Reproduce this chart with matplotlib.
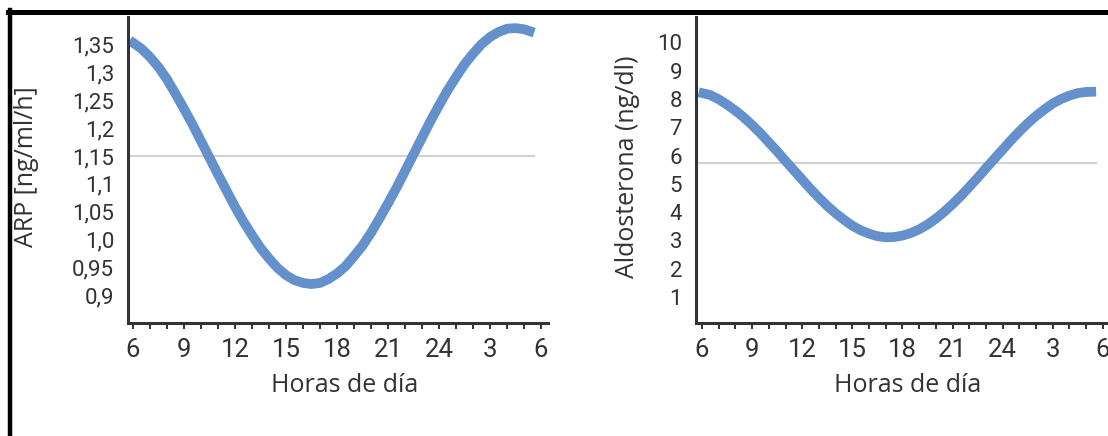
import matplotlib
matplotlib.use('Agg')
from matplotlib import pyplot as plt
from matplotlib.lines import Line2D

# horas del día (6 h -> 6 h del día siguiente, en escala continua)
horas = [5.8, 6.5, 7, 7.5, 8, 8.5, 9, 9.5, 10, 10.5, 11, 11.5, 12, 12.5,
         13, 13.5, 14, 14.5, 15, 15.5, 16, 16.5, 17, 17.5, 18, 18.5, 19,
         19.5, 20, 20.5, 21, 21.5, 22, 22.5, 23, 23.5, 24, 24.5, 25, 25.5,
         26, 26.5, 27, 27.5, 28, 28.5, 29, 29.6]

# actividad de renina plasmática (ng/ml/h)
arp = [1.358, 1.343, 1.328, 1.310, 1.288, 1.262, 1.235, 1.207, 1.177, 1.147,
       1.117, 1.088, 1.059, 1.032, 1.008, 0.985, 0.966, 0.949, 0.936, 0.927,
       0.922, 0.920, 0.922, 0.929, 0.939, 0.952, 0.970, 0.989, 1.012, 1.038,
       1.065, 1.093, 1.123, 1.153, 1.183, 1.213, 1.241, 1.268, 1.292, 1.315,
       1.334, 1.351, 1.364, 1.373, 1.379, 1.380, 1.378, 1.372]
arp_media = 1.15

# aldosterona (ng/dl)
aldo = [8.24, 8.14, 7.99, 7.80, 7.59, 7.35, 7.08, 6.79, 6.47, 6.15,
        5.81, 5.48, 5.15, 4.82, 4.51, 4.22, 3.96, 3.73, 3.52, 3.36,
        3.24, 3.15, 3.11, 3.12, 3.17, 3.26, 3.39, 3.56, 3.77, 4.01,
        4.28, 4.57, 4.89, 5.21, 5.55, 5.88, 6.21, 6.54, 6.85, 7.14,
        7.40, 7.63, 7.84, 8.00, 8.12, 8.21, 8.25, 8.26]
aldo_media = 5.74

xticks = [6, 9, 12, 15, 18, 21, 24, 27, 30]
xlabels = ['6', '9', '12', '15', '18', '21', '24', '3', '6']
arp_ticks = [0.9, 0.95, 1.0, 1.05, 1.1, 1.15, 1.2, 1.25, 1.3, 1.35]
arp_labels = ['0,9', '0,95', '1,0', '1,05', '1,1', '1,15', '1,2', '1,25', '1,3', '1,35']
aldo_ticks = [1, 2, 3, 4, 5, 6, 7, 8, 9, 10]

AZUL = '#6490cb'
GRIS = '#d3d3d3'
EJE = '#333333'

W, H = 1108, 436


def caja(x0, y0, x1, y1):
    """rectángulo en píxeles -> fracción de figura"""
    return [x0 / W, 1 - y1 / H, (x1 - x0) / W, (y1 - y0) / H]


def panel(ax, y, media, yticks, ylabels, ylim, xlim):
    ax.plot([horas[0], horas[-1]], [media, media], color=GRIS, lw=1.6, zorder=1)
    ax.plot(horas, y, color=AZUL, lw=7, solid_capstyle='butt',
            solid_joinstyle='round', zorder=2)
    ax.set_xlim(*xlim)
    ax.set_ylim(*ylim)
    for s in ['top', 'right']:
        ax.spines[s].set_visible(False)
    for s in ['left', 'bottom']:
        ax.spines[s].set_linewidth(2.2)
        ax.spines[s].set_color(EJE)
    ax.set_xticks(xticks)
    ax.set_xticklabels(xlabels, fontsize=18.5, color=EJE, family='Roboto')
    ax.set_xticks(range(6, 31), minor=True)
    ax.tick_params(axis='x', which='both', direction='out', length=4.5,
                   width=1.4, color=EJE, pad=6)
    ax.set_yticks(yticks)
    ax.set_yticklabels(ylabels, fontsize=16, color=EJE, family='Roboto')
    ax.tick_params(axis='y', length=0, pad=10)
    ax.set_facecolor('white')


fig = plt.figure(figsize=(W / 100, H / 100), dpi=100)

ax1 = fig.add_axes(caja(128, 17, 548, 323))
panel(ax1, arp, arp_media, arp_ticks, arp_labels, (0.85, 1.40),
      (6 - 5 / 17, 6 + 415 / 17))

ax2 = fig.add_axes(caja(696, 17, 1111, 323))
panel(ax2, aldo, aldo_media, aldo_ticks, [str(t) for t in aldo_ticks],
      (0.08, 10.9), (6 - 6 / 16.7, 6 + 409 / 16.7))

# títulos de los ejes
fig.text(27 / W, 1 - 167 / H, 'ARP [ng/ml/h]', rotation=90, ha='center',
         va='center', fontsize=18, color=EJE, family='Open Sans')
fig.text(627 / W, 1 - 167 / H, 'Aldosterona (ng/dl)', rotation=90, ha='center',
         va='center', fontsize=18, color=EJE, family='Open Sans')
fig.text(345 / W, 1 - 385 / H, 'Horas de día', ha='center', va='center',
         fontsize=18, color=EJE, family='Open Sans')
fig.text(908 / W, 1 - 385 / H, 'Horas de día', ha='center', va='center',
         fontsize=18, color=EJE, family='Open Sans')

# marco negro superior e izquierdo
fig.add_artist(Line2D([8 / W, 1], [1 - 12.5 / H, 1 - 12.5 / H],
                      color='black', lw=3.6, transform=fig.transFigure))
fig.add_artist(Line2D([10 / W, 10 / W], [0, 1 - 10 / H],
                      color='black', lw=3.2, transform=fig.transFigure))

fig.savefig('out.png', dpi=100)
